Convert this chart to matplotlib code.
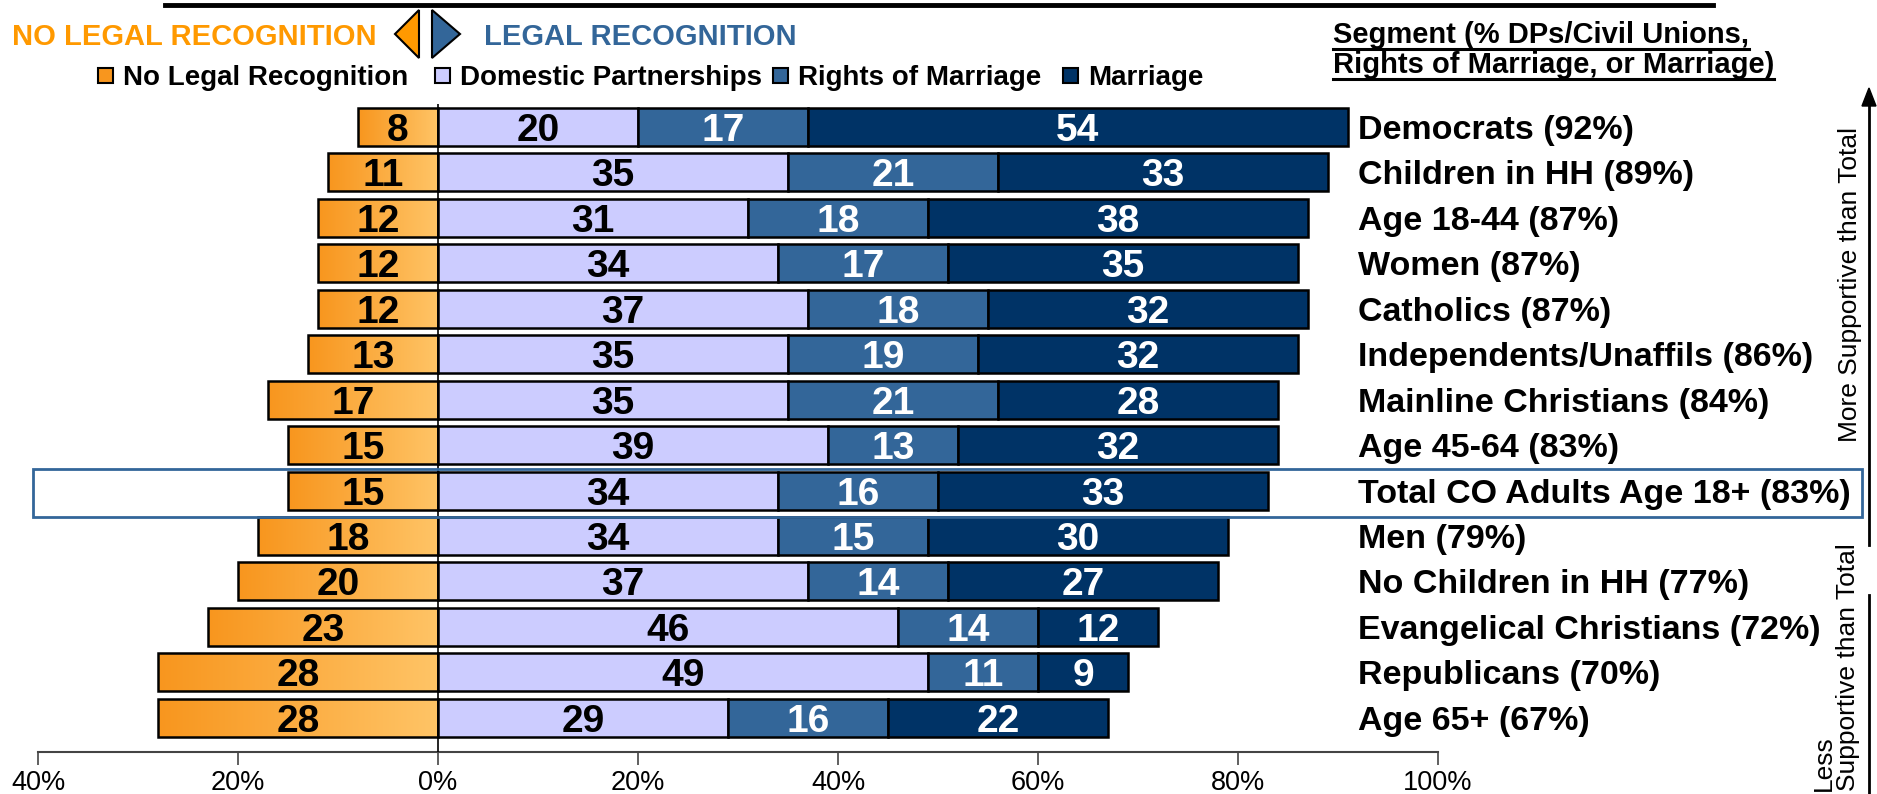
import numpy as np
import matplotlib.pyplot as plt
from matplotlib.patches import Rectangle, Polygon
from matplotlib.lines import Line2D
from matplotlib.colors import LinearSegmentedColormap

segments = ["Democrats (92%)", "Children in HH (89%)", "Age 18-44 (87%)", "Women (87%)",
            "Catholics (87%)", "Independents/Unaffils (86%)", "Mainline Christians (84%)",
            "Age 45-64 (83%)", "Total CO Adults Age 18+ (83%)", "Men (79%)",
            "No Children in HH (77%)", "Evangelical Christians (72%)", "Republicans (70%)",
            "Age 65+ (67%)"]
no_legal = [8, 11, 12, 12, 12, 13, 17, 15, 15, 18, 20, 23, 28, 28]
domestic = [20, 35, 31, 34, 37, 35, 35, 39, 34, 34, 37, 46, 49, 29]
rights = [17, 21, 18, 17, 18, 19, 21, 13, 16, 15, 14, 14, 11, 16]
marriage = [54, 33, 38, 35, 32, 32, 28, 32, 33, 30, 27, 12, 9, 22]
legend_labels = ["No Legal Recognition", "Domestic Partnerships", "Rights of Marriage", "Marriage"]
tick_values = [-40, -20, 0, 20, 40, 60, 80, 100]

plt.rcParams['font.family'] = ['Liberation Sans', 'DejaVu Sans']

ORANGE_DARK, ORANGE_LIGHT = '#F8961E', '#FFC466'
LAVENDER, MIDBLUE, NAVY = '#CCCCFF', '#336699', '#003366'

W, H = 1877, 794
fig = plt.figure(figsize=(W / 100, H / 100), dpi=100)

def fx(px):
    return px / W

def fy(py):
    return 1 - py / H

ax = fig.add_axes([fx(38), fy(752), fx(1438) - fx(38), fy(104) - fy(752)])

y = np.arange(len(segments))
h = 0.835
dom = np.array(domestic)
rts = np.array(rights)
mar = np.array(marriage)

# orange bars with gradient fill
orange_cmap = LinearSegmentedColormap.from_list("og", [ORANGE_DARK, ORANGE_LIGHT])
grad = np.linspace(0, 1, 256).reshape(1, -1)
bars = ax.barh(y, -np.array(no_legal), height=h, color='none', edgecolor='black', lw=1.8, zorder=3)
for b in bars:
    x0, w = b.get_x(), b.get_width()
    yb, hh = b.get_y(), b.get_height()
    im = ax.imshow(grad, cmap=orange_cmap, extent=(x0 + w, x0, yb, yb + hh), aspect='auto', zorder=2)
    im.set_clip_path(b)

ax.barh(y, dom, height=h, color=LAVENDER, edgecolor='black', lw=1.8, zorder=3)
ax.barh(y, rts, left=dom, height=h, color=MIDBLUE, edgecolor='black', lw=1.8, zorder=3)
ax.barh(y, mar, left=dom + rts, height=h, color=NAVY, edgecolor='black', lw=1.8, zorder=3)

ax.axvline(0, color='black', lw=1.2, zorder=4)

lab = dict(ha='center', va='center_baseline', fontsize=28, fontweight='bold', zorder=5)
for i in y:
    ax.text(-no_legal[i] / 2, i, str(no_legal[i]), color='black', **lab)
    ax.text(dom[i] / 2, i, str(dom[i]), color='black', **lab)
    ax.text(dom[i] + rts[i] / 2, i, str(rts[i]), color='white', **lab)
    ax.text(dom[i] + rts[i] + mar[i] / 2, i, str(mar[i]), color='white', **lab)
    ax.text(92.0, i, segments[i], ha='left', va='center_baseline', fontsize=24.5, fontweight='bold',
            clip_on=False)

ax.set_xlim(-40, 100)
ax.set_ylim(13.75, -0.5)
ax.set_yticks([])
for s in ['left', 'right', 'top']:
    ax.spines[s].set_visible(False)
ax.spines['bottom'].set_color('#444444')
ax.spines['bottom'].set_linewidth(1.5)
ax.set_xticks(tick_values)
ax.set_xticklabels([f"{abs(v)}%" for v in tick_values], fontsize=19.5)
ax.tick_params(axis='x', direction='out', length=9, width=1.2, color='#444444', pad=4)

# highlight box around Total row
box = Rectangle((fx(33), fy(517)), fx(1862) - fx(33), fy(469) - fy(517), transform=fig.transFigure,
                fill=False, edgecolor=MIDBLUE, lw=2, zorder=6)
fig.patches.append(box)

# clipped title underline
fig.add_artist(Line2D([fx(165), fx(1713)], [fy(5), fy(5)], color='black', lw=3.5))

# header
fig.text(fx(12), fy(34), "NO LEGAL RECOGNITION", color='#FF9900', fontsize=21, fontweight='bold',
         va='center_baseline', ha='left')
fig.text(fx(484), fy(34), "LEGAL RECOGNITION", color=MIDBLUE, fontsize=21, fontweight='bold',
         va='center_baseline', ha='left')
fig.patches.append(Polygon([(fx(419), fy(10)), (fx(395), fy(34)), (fx(419), fy(58))], closed=True,
                           transform=fig.transFigure, facecolor='#FF9900', edgecolor='black', lw=1.5))
fig.patches.append(Polygon([(fx(432), fy(10)), (fx(460), fy(34)), (fx(432), fy(58))], closed=True,
                           transform=fig.transFigure, facecolor=MIDBLUE, edgecolor='black', lw=1.5))

# legend
leg_sq_x = [98, 435, 773, 1063]
leg_colors = [ORANGE_DARK, LAVENDER, MIDBLUE, NAVY]
for xs, c, t in zip(leg_sq_x, leg_colors, legend_labels):
    fig.patches.append(Rectangle((fx(xs), fy(83)), fx(15), fy(0) - fy(15), transform=fig.transFigure,
                                 facecolor=c, edgecolor='black', lw=1.5))
    fig.text(fx(xs + 25), fy(75), t, fontsize=20, fontweight='bold', va='center_baseline', ha='left')

# segment header, underlined
seg1 = fig.text(fx(1333), fy(32), "Segment (% DPs/Civil Unions,", fontsize=21, fontweight='bold',
                va='center_baseline', ha='left')
seg2 = fig.text(fx(1333), fy(62), "Rights of Marriage, or Marriage)", fontsize=21, fontweight='bold',
                va='center_baseline', ha='left')
fig.canvas.draw()
for t, uy in [(seg1, 49), (seg2, 79)]:
    bb = t.get_window_extent()
    fig.add_artist(Line2D([fx(bb.x0), fx(bb.x1)], [fy(uy), fy(uy)], color='black', lw=2.2))

# right side arrows
fig.add_artist(Line2D([fx(1869), fx(1869)], [fy(545), fy(104)], color='black', lw=2))
fig.patches.append(Polygon([(fx(1862), fy(106)), (fx(1869), fy(88)), (fx(1876), fy(106))], closed=True,
                           transform=fig.transFigure, facecolor='black', edgecolor='black'))
fig.text(fx(1850), fy(285), "More Supportive than Total", rotation=90, fontsize=19,
         va='center', ha='center')
fig.add_artist(Line2D([fx(1869), fx(1869)], [fy(595), fy(794)], color='black', lw=2))
fig.text(fx(1836), fy(791), "Less\nSupportive than Total", rotation=90, fontsize=19,
         va='bottom', ha='center', multialignment='left', linespacing=1.0)

fig.savefig("out.png", dpi=100)
